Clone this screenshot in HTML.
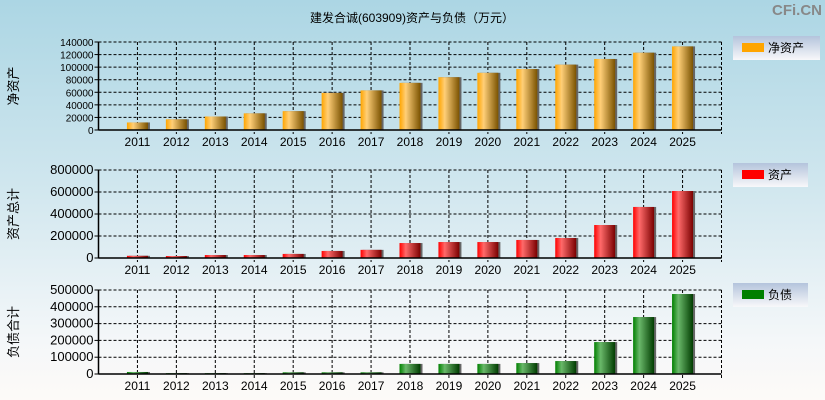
<!DOCTYPE html>
<html><head><meta charset="utf-8">
<style>
html,body{margin:0;padding:0;overflow:hidden}
body{width:825px;height:400px;background:linear-gradient(#acd6e4 0%,#cfe6ee 45%,#f4f7f9 85%,#fdfaf8 100%);font-family:"Liberation Sans","Noto Sans CJK SC",sans-serif}
svg{display:block}
svg text{font-family:"Liberation Sans","Noto Sans CJK SC",sans-serif}
</style></head><body>
<svg id="c" width="825" height="400" xmlns="http://www.w3.org/2000/svg">
<defs>
<linearGradient id="gO" x1="0" x2="1"><stop offset="0" stop-color="#ffa500"/><stop offset="0.3" stop-color="#ffcf78"/><stop offset="1" stop-color="#7a5200"/></linearGradient>
<linearGradient id="gR" x1="0" x2="1"><stop offset="0" stop-color="#ff0000"/><stop offset="0.3" stop-color="#ff6a6a"/><stop offset="1" stop-color="#7a0000"/></linearGradient>
<linearGradient id="gG" x1="0" x2="1"><stop offset="0" stop-color="#008000"/><stop offset="0.3" stop-color="#6ab86a"/><stop offset="1" stop-color="#003c00"/></linearGradient>
<linearGradient id="lg" x1="0" y1="0" x2="0" y2="1"><stop offset="0" stop-color="#b4c4dc"/><stop offset="1" stop-color="#f8f8fa"/></linearGradient>
</defs>
<text x="412" y="22" text-anchor="middle" font-size="12">建发合诚(603909)资产与负债（万元）</text>
<text x="822" y="15" text-anchor="end" font-size="15" font-weight="bold" fill="#888">CFi.CN</text>
</svg>
<script>
const categories=['2011','2012','2013','2014','2015','2016','2017','2018','2019','2020','2021','2022','2023','2024','2025'];
const netAssets=[12000,17000,21500,26500,30000,59000,63000,75000,84000,91000,97000,104000,113000,123000,133000];
const totalAssets=[20000,18000,27000,27000,37000,64000,74000,136000,145000,145000,164000,182000,300000,464000,609000];
const liabilities=[12000,5000,5000,5000,10000,10000,10000,60000,60000,60000,65000,77000,190000,339000,476000];
const ticks1=[0,20000,40000,60000,80000,100000,120000,140000];
const ticks2=[0,200000,400000,600000,800000];
const ticks3=[0,100000,200000,300000,400000,500000];
const NS='http://www.w3.org/2000/svg';
const svg=document.getElementById('c');
function mk(t,a,p){const e=document.createElementNS(NS,t);for(const k in a)e.setAttribute(k,a[k]);(p||svg).appendChild(e);return e;}
const L=98.5,R=721.5;
function xPos(i){return L+(i+1)*(R-L)/(categories.length+1);}
function panel(key,top,bot,vals,ticks,fill,ylab,fs,legTxt,legColor,legY,legW){
  const g=mk('g',{});
  
  
  const max=ticks[ticks.length-1];
  const y=v=>bot-(v/max)*(bot-top);
  ticks.forEach(t=>{
    if(t>0){const l=mk('line',{x1:L,x2:R,y1:y(t),y2:y(t),stroke:'#000','stroke-dasharray':'3,2','stroke-width':1},g);
      }
    mk('line',{x1:L-4,x2:L,y1:y(t),y2:y(t),stroke:'#000'},g);
    const tx=mk('text',{x:L-5,y:y(t)+4,'text-anchor':'end','font-size':fs},g);
    tx.textContent=t;
    
    
  });
  categories.forEach((c,i)=>{
    const x=xPos(i);
    const l=mk('line',{x1:x,x2:x,y1:top,y2:bot+4,stroke:'#000','stroke-dasharray':'3,2'},g);
    
    const tx=mk('text',{x:x,y:bot+16,'text-anchor':'middle','font-size':12},g);
    tx.textContent=c;
    
    
    const yt=y(vals[i]);
    mk('rect',{x:x-10+1.5,y:yt,width:21,height:bot-yt,fill:'#666'},g);
    const b=mk('rect',{x:x-10.5,y:yt,width:21,height:bot-yt,fill:fill},g);
    
    
  });
  mk('line',{x1:R,x2:R,y1:top,y2:bot+4,stroke:'#000','stroke-dasharray':'3,2'},g);
  mk('line',{x1:L,x2:R,y1:top,y2:top,stroke:'#000','stroke-dasharray':'3,2'},g);
  mk('line',{x1:L,x2:L,y1:top,y2:bot,stroke:'#000','stroke-width':1.5},g);
  mk('line',{x1:L,x2:R,y1:bot,y2:bot,stroke:'#000','stroke-width':1.5},g);
  const yl=mk('text',{x:0,y:0,'text-anchor':'middle','font-size':13,transform:`translate(18,${(top+bot)/2}) rotate(-90)`},g);
  yl.textContent=ylab;
  
  
  const lg=mk('g',{},g);
  
  
  mk('rect',{x:733,y:legY,width:legW,height:24,fill:'url(#lg)'},lg);
  mk('rect',{x:742,y:legY+7,width:22,height:9,fill:legColor},lg);
  const lt=mk('text',{x:768,y:legY+16,'font-size':12},lg);
  lt.textContent=legTxt;
}
panel('net-assets',42,130,netAssets,ticks1,'url(#gO)','净资产',10,'净资产','#ffa500',36,87);
panel('total-assets',170,258,totalAssets,ticks2,'url(#gR)','资产总计',13,'资产','#ff0000',163,75);
panel('liabilities',290,374,liabilities,ticks3,'url(#gG)','负债合计',13,'负债','#008000',283,75);
</script>
</body></html>
